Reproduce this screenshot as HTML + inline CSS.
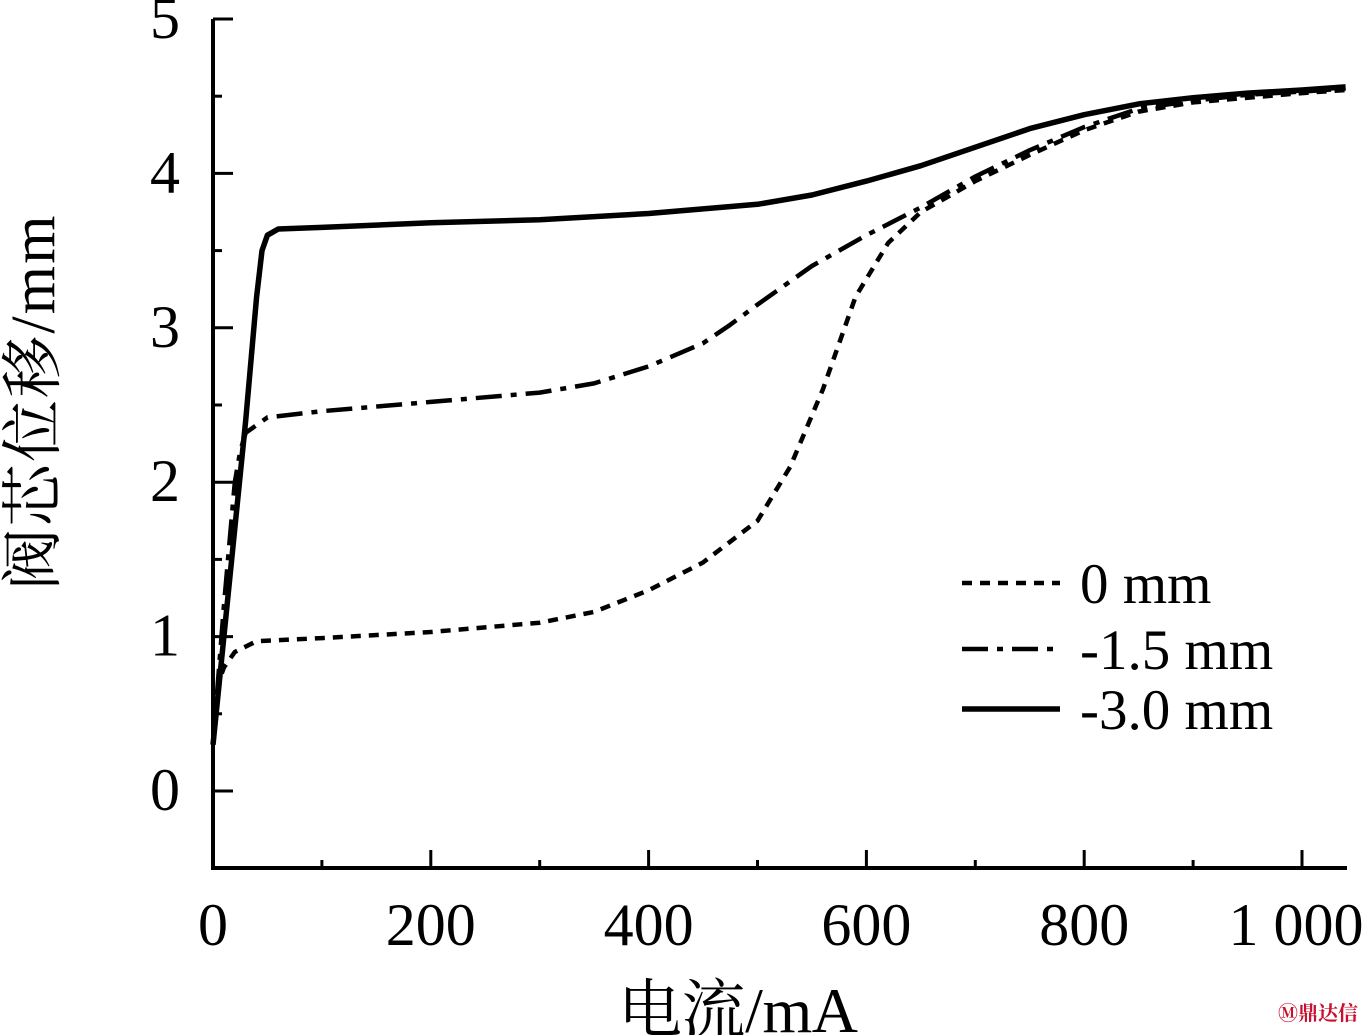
<!DOCTYPE html>
<html><head><meta charset="utf-8"><style>
html,body{margin:0;padding:0;background:#fff;}
svg{display:block;}
text{font-family:"Liberation Serif","Noto Serif CJK SC",serif;fill:#000;}
</style></head><body>
<svg id="chart" width="1368" height="1035" viewBox="0 0 1368 1035">
<g id="axes"></g>
<g id="series"></g>
<g id="legend"></g>
<text x="738" y="1032" font-size="64" text-anchor="middle" textLength="240">电流/mA</text>
<text transform="translate(54,403) rotate(-90)" font-size="62" text-anchor="middle" textLength="375">阀芯位移/mm</text>
<text x="1358" y="1020" font-size="20" font-weight="bold" text-anchor="end" style="fill:#c8102e">Ⓜ鼎达信</text>
</svg>
<script>
const xTicks=[0,200,400,600,800,1000];
const xTickLabels=["0","200","400","600","800","1 000"];
const yTicks=[0,1,2,3,4,5];
const yTickLabels=["0","1","2","3","4","5"];
const seriesNames=["0 mm","-1.5 mm","-3.0 mm"];
const x0=[0,5,10,20,40,100,200,300,350,400,450,500,530,560,590,620,650,700,750,800,850,900,1000,1040];
const y0=[0.3,0.7,0.8,0.9,0.97,0.99,1.03,1.09,1.16,1.3,1.48,1.75,2.1,2.6,3.2,3.55,3.75,3.95,4.12,4.28,4.4,4.46,4.52,4.54];
const x15=[0,10,20,25,30,50,100,200,300,350,400,450,475,500,550,600,650,700,750,800,850,900,950,1000,1040];
const y15=[0.3,1.2,2.0,2.2,2.32,2.42,2.46,2.52,2.58,2.64,2.75,2.9,3.02,3.15,3.4,3.6,3.78,3.98,4.15,4.3,4.42,4.47,4.51,4.53,4.55];
const x30=[0,10,20,30,40,45,50,60,100,200,300,400,500,550,600,650,700,750,800,850,900,950,1000,1040];
const y30=[0.3,1.0,1.7,2.4,3.2,3.5,3.6,3.64,3.65,3.68,3.7,3.74,3.8,3.86,3.95,4.05,4.17,4.29,4.38,4.45,4.49,4.52,4.54,4.56];
const NS="http://www.w3.org/2000/svg";
const X=v=>213+v*1.089;
const Y=v=>791-v*154.4;
function mk(tag,attrs,parent){const e=document.createElementNS(NS,tag);for(const k in attrs)e.setAttribute(k,attrs[k]);parent.appendChild(e);return e;}
const axes=document.getElementById('axes');
let a=mk('line',{x1:213,y1:19,x2:213,y2:869,stroke:'#000','stroke-width':4},axes);


a=mk('line',{x1:211,y1:868,x2:1347,y2:868,stroke:'#000','stroke-width':4},axes);


for(let v=-0.5;v<=5.01;v+=0.5){const maj=Math.abs(v-Math.round(v))<0.01;
 const t=mk('line',{x1:213,y1:Y(v),x2:213+(maj?20:9),y2:Y(v),stroke:'#000','stroke-width':3},axes);
 
 }
yTicks.forEach((v,i)=>{const t=mk('text',{x:180,y:Y(v)+19,'font-size':60,'text-anchor':'end'},axes);t.textContent=yTickLabels[i];
 
 });
for(let v=0;v<=1000;v+=100){const maj=v%200===0;
 const t=mk('line',{x1:X(v),y1:868,x2:X(v),y2:868-(maj?18:8),stroke:'#000','stroke-width':3},axes);
 
 }
xTicks.forEach((v,i)=>{const t=mk('text',{x:X(v)+(i===5?-6:0),y:945,'font-size':60,'text-anchor':'middle'},axes);t.textContent=xTickLabels[i];
 
 });
const ser=document.getElementById('series');
const styles=[{dash:'10 8',w:4.5},{dash:'26 9 6 9',w:4.5},{dash:'',w:5.5}];
[[x0,y0],[x15,y15],[x30,y30]].forEach((s,i)=>{
 const d=s[0].map((xv,j)=>(j?'L':'M')+X(xv).toFixed(1)+','+Y(s[1][j]).toFixed(1)).join(' ');
 const p=mk('path',{d:d,fill:'none',stroke:'#000','stroke-width':styles[i].w,'stroke-dasharray':styles[i].dash,'stroke-linejoin':'round'},ser);
 
 
});
const leg=document.getElementById('legend');
const ly=[583,649,709];
seriesNames.forEach((n,i)=>{
 const l=mk('line',{x1:962,y1:ly[i],x2:1060,y2:ly[i],stroke:'#000','stroke-width':styles[i].w,'stroke-dasharray':styles[i].dash},leg);
 
 
 const t=mk('text',{x:1080,y:ly[i]+20,'font-size':57},leg);t.textContent=n;
 
 
});
</script>
</body></html>
